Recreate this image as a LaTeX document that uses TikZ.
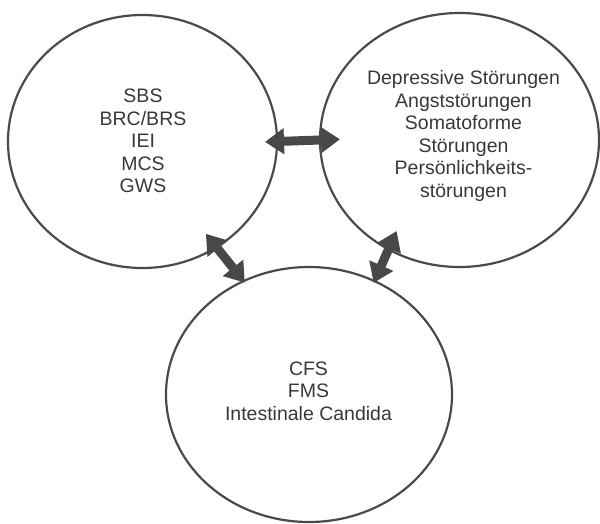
\documentclass[tikz,border=0pt]{standalone}
\usepackage{fontspec}
\setmainfont{Liberation Sans}
\usetikzlibrary{shapes.geometric,arrows.meta}
\definecolor{ringgray}{HTML}{4A4A4A}
\definecolor{arrowgray}{HTML}{484848}
\definecolor{textgray}{HTML}{383838}
\begin{document}
\begin{tikzpicture}[x=1pt,y=-1pt,
  ring/.style={ellipse, draw=ringgray, line width=2.2pt, inner sep=0pt, outer sep=0pt},
  txt/.style={align=center, text=textgray, inner sep=0pt, font=\fontsize{19.5}{22.5}\selectfont},
  link/.style={draw=arrowgray, line width=9pt,
    {Triangle[length=19pt,width=25pt]}-{Triangle[length=19pt,width=25pt]}}]
\useasboundingbox (0,0) rectangle (600,523);
\node[ring, minimum width=269pt, minimum height=253pt] (L) at (142.5,141.5) {};
\node[ring, minimum width=279pt, minimum height=254pt] (R) at (459.5,140) {};
\node[ring, minimum width=286pt, minimum height=255pt] (B) at (309,394.5) {};
\node[txt] (Lt) at (143,141) {SBS\\BRC/BRS\\IEI\\MCS\\GWS};
\node[txt] (Rt) at (463.5,136) {Depressive Störungen\\Angststörungen\\Somatoforme\\Störungen\\Persönlichkeits-\\störungen};
\node[txt] (Bt) at (308.5,391) {CFS\\FMS\\Intestinale Candida};
\draw[link, shorten <=-12pt, shorten >=-20pt] (L.east) -- (R.west);
\draw[link, shorten <=-17pt, shorten >=-2pt] (L.-55) -- (B.120);
\draw[link, shorten <=-20pt, shorten >=-2pt] (R.237) -- (B.60);
\end{tikzpicture}
\end{document}
